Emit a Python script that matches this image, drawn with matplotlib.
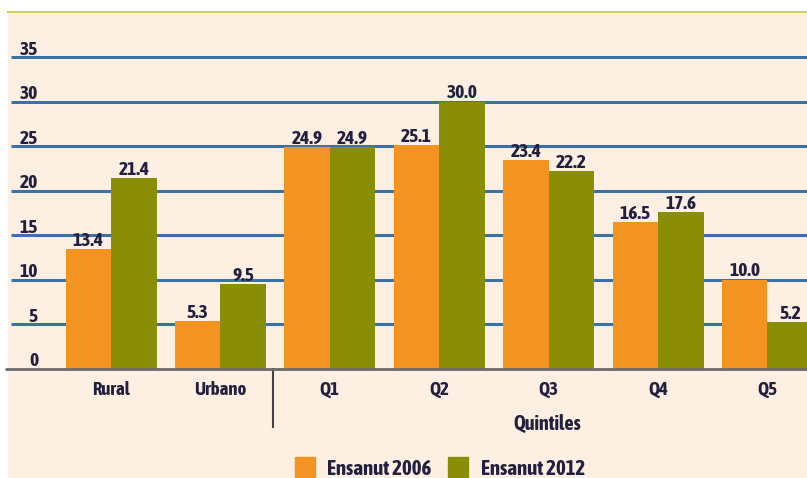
import matplotlib
matplotlib.use("Agg")
import matplotlib.pyplot as plt
from matplotlib import font_manager
import matplotlib.patheffects as pe
from matplotlib.patches import Rectangle
from matplotlib.lines import Line2D
import numpy as np

categories = ["Rural", "Urbano", "Q1", "Q2", "Q3", "Q4", "Q5"]
ensanut_2006 = [13.4, 5.3, 24.9, 25.1, 23.4, 16.5, 10.0]
ensanut_2012 = [21.4, 9.5, 24.9, 30.0, 22.2, 17.6, 5.2]
yticks = [0, 5, 10, 15, 20, 25, 30, 35]
series_names = ["Ensanut 2006", "Ensanut 2012"]

ORANGE = "#F39322"
GREEN = "#8A8E06"
CREAM = "#FDF0E2"
GRID = "#3A72A6"
TXT = "#231F3F"

# look for a condensed face, fall back to DejaVu
narrow = [f for f in font_manager.fontManager.ttflist
          if "Narrow" in f.name or "Condensed" in f.name]
bold_narrow = [f for f in narrow if f.weight in (700, "bold") and f.style == "normal"]
if bold_narrow:
    fam = bold_narrow[0].name
    fake_bold = []
else:
    fam = narrow[0].name if narrow else "DejaVu Sans"
    fake_bold = [pe.withStroke(linewidth=0.7, foreground=TXT)]
plt.rcParams["font.family"] = [fam, "DejaVu Sans"]
plt.rcParams["font.weight"] = "bold"

W, H = 807, 478
fig = plt.figure(figsize=(W / 100, H / 100), dpi=100)
fig.patch.set_facecolor("white")

# cream panel + thin top line
fig.patches.append(Rectangle((8 / W, 0), (W - 8) / W, (H - 12) / H,
                             transform=fig.transFigure, facecolor=CREAM,
                             edgecolor="none", zorder=-5))
fig.lines.append(Line2D([8 / W, 1], [(H - 12) / H] * 2, transform=fig.transFigure,
                        color="#C6D35A", lw=1.5, zorder=-4))

ax = fig.add_axes([8 / W, (H - 368.5) / H, (W - 8) / W, (368.5 - 57) / H])
ax.set_facecolor("none")
for s in ax.spines.values():
    s.set_visible(False)
ax.set_xticks([])
ax.set_yticks([])

step = 109.4
x0px = 111
def px2x(p):
    return (p - x0px) / step

ax.set_xlim(px2x(8), px2x(W))
ax.set_ylim(0, 35)

fs = 14
tkw = dict(color=TXT, fontweight="bold", path_effects=fake_bold)

# gridlines
for t in yticks[1:]:
    ax.plot([px2x(11), px2x(W)], [t, t], color=GRID, lw=2.2, zorder=1,
            solid_capstyle="butt", clip_on=False)
for t in yticks:
    ax.text(px2x(38), t + 0.25, str(t), ha="right", va="baseline", fontsize=fs, **tkw)

x = np.arange(len(categories))
w = 45.5 / step
b1 = ax.bar(x - w / 2, ensanut_2006, w, color=ORANGE, zorder=2)
b2 = ax.bar(x + w / 2, ensanut_2012, w, color=GREEN, zorder=2)

for bars, vals in ((b1, ensanut_2006), (b2, ensanut_2012)):
    for r, v in zip(bars, vals):
        ax.text(r.get_x() + r.get_width() / 2, v + 0.35, f"{v:.1f}",
                ha="center", va="baseline", zorder=3, clip_on=False, fontsize=fs, **tkw)

# zero line
ax.plot([px2x(5), px2x(W)], [0, 0], color="#6B6B6B", lw=2, zorder=3,
        clip_on=False, solid_capstyle="butt")

# category labels
for i, c in enumerate(categories):
    ax.text(i, -2.4, c, ha="center", va="center", clip_on=False, fontsize=13.5, **tkw)
ax.text(px2x(547), -6.1, "Quintiles", ha="center", va="center", clip_on=False,
        fontsize=14.5, **tkw)

# separator
ax.plot([px2x(273)] * 2, [0, -6.6], color="#444444", lw=1.5, clip_on=False)

# legend
handles = [Rectangle((0, 0), 1, 1, color=ORANGE), Rectangle((0, 0), 1, 1, color=GREEN)]
leg = fig.legend(handles, series_names, loc="center", bbox_to_anchor=(440 / W, (H - 468) / H),
                 ncol=2, frameon=False, fontsize=15, handlelength=0.95, handleheight=1.1,
                 columnspacing=0.8, handletextpad=0.6)
for t in leg.get_texts():
    t.set_color(TXT)
    t.set_fontweight("bold")
    t.set_path_effects(fake_bold)

fig.savefig("out.png", dpi=100, facecolor=fig.get_facecolor())
